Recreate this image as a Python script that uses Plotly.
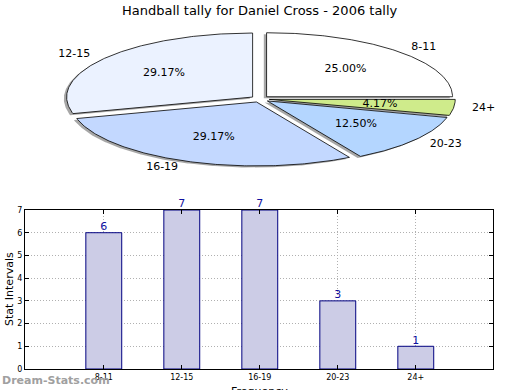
import numpy as np
import plotly.graph_objects as go

categories = ["8-11", "12-15", "16-19", "20-23", "24+"]
counts = [6, 7, 7, 3, 1]
slice_colors = ["#FFFFFF", "#EBF2FF", "#C3D8FF", "#B4D6FF", "#CFEB8B"]
y_ticks = [0, 1, 2, 3, 4, 5, 6, 7]
title = "Handball tally for Daniel Cross - 2006 tally"

explode = 0.05
FONT = "DejaVu Sans"

fig = go.Figure()

# --- Pie (elliptical, drawn in its own axes) ---
total = float(sum(counts))
fracs = [c / total for c in counts]
start = 0.0
shadow_dx, shadow_dy = -0.015, -0.025
slices = []
for i, f in enumerate(fracs):
    t1, t2 = start, start + 360.0 * f
    tm = np.deg2rad((t1 + t2) / 2)
    ex, ey = explode * np.cos(tm), explode * np.sin(tm)
    th = np.deg2rad(np.linspace(t1, t2, max(int(abs(t2 - t1)), 2) * 2))
    xs = np.concatenate([[ex], ex + np.cos(th), [ex]])
    ys = np.concatenate([[ey], ey + np.sin(th), [ey]])
    slices.append((xs, ys, tm, ex, ey, f))
    start = t2

for xs, ys, *_ in slices:
    fig.add_trace(go.Scatter(x=xs + shadow_dx, y=ys + shadow_dy, mode="lines", fill="toself",
                             fillcolor="rgba(80,80,80,0.5)", line=dict(width=0),
                             xaxis="x2", yaxis="y2", hoverinfo="skip", showlegend=False))
for (xs, ys, tm, ex, ey, f), col in zip(slices, slice_colors):
    fig.add_trace(go.Scatter(x=xs, y=ys, mode="lines", fill="toself", fillcolor=col,
                             line=dict(color="black", width=0.8),
                             xaxis="x2", yaxis="y2", hoverinfo="skip", showlegend=False))

for (xs, ys, tm, ex, ey, f), cat in zip(slices, categories):
    lx, ly = ex + 1.1 * np.cos(tm), ey + 1.1 * np.sin(tm)
    pos = "middle right" if np.cos(tm) > 0 else "middle left"
    fig.add_trace(go.Scatter(x=[lx], y=[ly], mode="text", text=[cat], textposition=pos,
                             textfont=dict(family=FONT, size=11, color="black"),
                             xaxis="x2", yaxis="y2", hoverinfo="skip", showlegend=False))
    px, py = ex + 0.6 * np.cos(tm), ey + 0.6 * np.sin(tm)
    fig.add_trace(go.Scatter(x=[px], y=[py], mode="text", text=["%.2f%%" % (f * 100)],
                             textposition="middle center",
                             textfont=dict(family=FONT, size=11, color="black"),
                             xaxis="x2", yaxis="y2", hoverinfo="skip", showlegend=False))

# --- Bar chart ---
xpos = list(range(len(categories)))
fig.add_trace(go.Bar(x=xpos, y=counts, width=0.46, marker=dict(color="#CCCCE6",
                     line=dict(color="#000080", width=1)), showlegend=False, hoverinfo="skip"))
fig.add_trace(go.Scatter(x=xpos, y=counts, mode="text", text=[str(c) for c in counts],
                         textposition="top center", cliponaxis=False,
                         textfont=dict(family=FONT, size=11, color="#1010A0"),
                         showlegend=False, hoverinfo="skip"))

W, H = 520, 390
cx, cy, rx, ry = 260, 99, 186, 64
pie_h = 195
fig.update_layout(
    width=W, height=H, margin=dict(l=0, r=0, t=0, b=0, pad=0, autoexpand=False),
    paper_bgcolor="white", plot_bgcolor="rgba(0,0,0,0)",
    font=dict(family=FONT, color="black"),
    xaxis2=dict(domain=[0, 1], range=[-cx / rx, (W - cx) / rx], anchor="y2",
                visible=False, fixedrange=True, automargin=False),
    yaxis2=dict(domain=[1 - pie_h / H, 1], range=[-(pie_h - cy) / ry, cy / ry], anchor="x2",
                visible=False, fixedrange=True, automargin=False),
    xaxis=dict(domain=[25 / W, 493 / W], range=[-1.01, 4.99], tickvals=xpos, ticktext=categories,
               showgrid=True, gridcolor="#B0B0B0", griddash="1px,2px", gridwidth=1,
               showline=True, linecolor="black", linewidth=1, mirror="ticks",
               ticks="inside", ticklen=4, tickcolor="black", automargin=False,
               tickfont=dict(family=FONT, size=8), zeroline=False, anchor="y"),
    yaxis=dict(domain=[21 / H, 180 / H], range=[0, 7], tickvals=y_ticks,
               showgrid=True, gridcolor="#B0B0B0", griddash="1px,2px", gridwidth=1,
               showline=True, linecolor="black", linewidth=1, mirror="ticks",
               ticks="inside", ticklen=4, tickcolor="black", automargin=False,
               tickfont=dict(family=FONT, size=8), zeroline=False, anchor="x"),
    annotations=[
        dict(text=title, x=0.5, y=1 - 10 / H, xref="paper", yref="paper", showarrow=False,
             xanchor="center", yanchor="middle", font=dict(family=FONT, size=13)),
        dict(text="Stat Intervals", x=9 / W, y=1 - 289 / H, xref="paper", yref="paper",
             showarrow=False, textangle=-90, xanchor="center", yanchor="middle",
             font=dict(family=FONT, size=11)),
        dict(text="Frequency", x=259 / W, y=1 - 391 / H, xref="paper", yref="paper",
             showarrow=False, xanchor="center", yanchor="middle",
             font=dict(family=FONT, size=11)),
        dict(text="<b>Dream-Stats.com</b>", x=0, y=1 - 380 / H, xref="paper", yref="paper",
             showarrow=False, xanchor="left", yanchor="middle",
             font=dict(family=FONT, size=11, color="#A0A0A0")),
    ],
)

fig.write_html("out.html", config={"displayModeBar": False},
               post_script="document.body.style.margin='0px';document.body.style.padding='0px';")
